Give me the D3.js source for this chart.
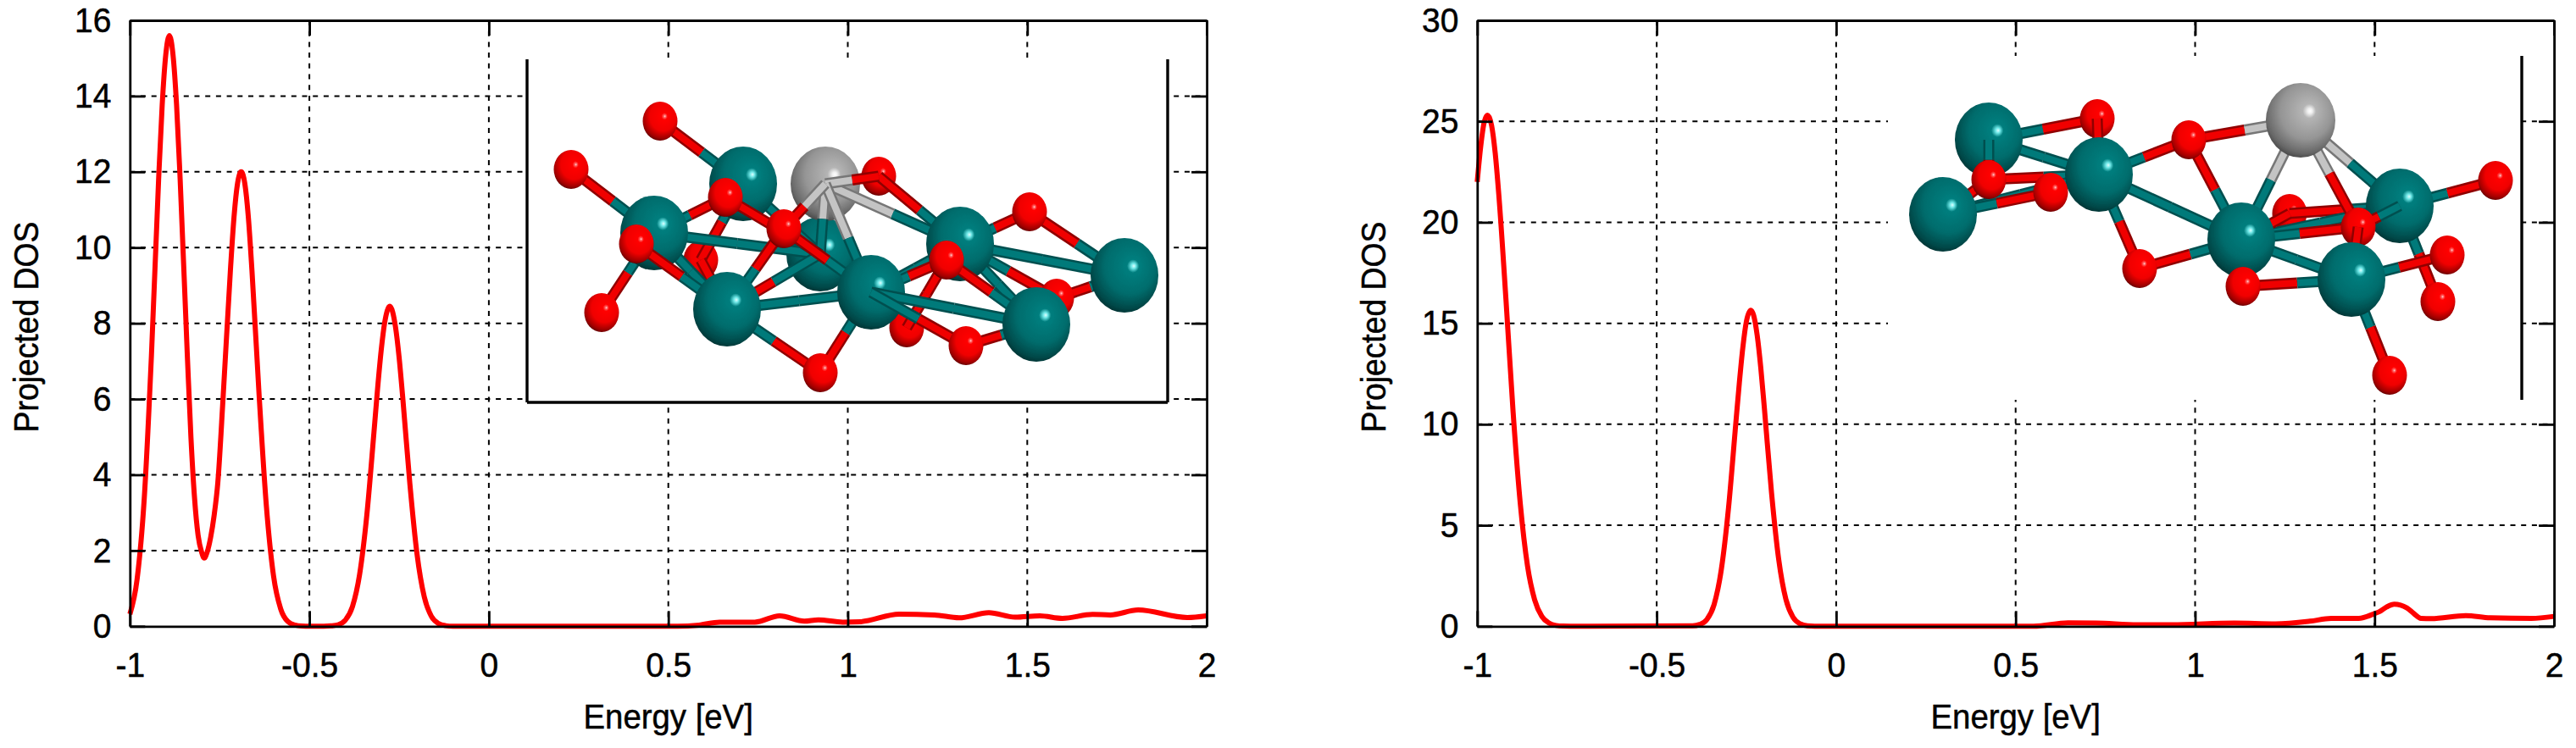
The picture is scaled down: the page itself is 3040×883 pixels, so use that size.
<!DOCTYPE html>
<html>
<head>
<meta charset="utf-8">
<script src="https://cdn.jsdelivr.net/npm/d3@7"></script>
<style>
body { margin: 0; background: #fff; }
text { font-family: "Liberation Sans", sans-serif; font-size: 41px; fill: #000; stroke: #000; stroke-width: 0.5px; }
</style>
</head>
<body>
<div id="chart"></div>
<script>
// curve, energy in eV
var leftE = [-1,-0.98,-0.96,-0.94,-0.92,-0.91,-0.9,-0.89,-0.88,-0.87,-0.86,-0.84,-0.83,-0.82,-0.81,-0.8,-0.793,-0.785,-0.775,-0.765,-0.755,-0.74,-0.72,-0.71,-0.7,-0.69,-0.68,-0.67,-0.66,-0.64,-0.62,-0.6,-0.58,-0.56,-0.54,-0.52,-0.5,-0.46,-0.44,-0.42,-0.4,-0.38,-0.36,-0.34,-0.32,-0.31,-0.3,-0.29,-0.276,-0.26,-0.25,-0.24,-0.22,-0.2,-0.18,-0.16,-0.14,-0.12,-0.1,0,0.3,0.526,0.585,0.643,0.741,0.81,0.879,0.918,0.986,1.035,1.143,1.241,1.31,1.393,1.466,1.535,1.598,1.682,1.731,1.809,1.946,2];
var leftDos = [0.32,1.24,3.38,7.15,11.8,13.77,15.1,15.6,15.1,13.77,11.8,7.15,5,3.4,2.4,1.95,1.8,1.95,2.35,2.95,3.8,6.1,9.4,10.8,11.7,12,11.7,10.8,9.4,6.1,3.2,1.34,0.46,0.125,0.03,0.005,0,0,0.01,0.04,0.16,0.52,1.37,2.93,5.13,6.27,7.28,8.03,8.45,7.9,7.1,6.05,3.76,1.9,0.78,0.26,0.07,0.015,0,0,0,0,0.03,0.11,0.11,0.276,0.134,0.17,0.11,0.12,0.32,0.3,0.224,0.358,0.239,0.276,0.209,0.313,0.3,0.43,0.231,0.276];
var rightE = [-1,-0.99,-0.98,-0.971,-0.96,-0.95,-0.94,-0.92,-0.9,-0.88,-0.86,-0.84,-0.82,-0.8,-0.78,-0.76,-0.72,-0.4,-0.38,-0.36,-0.34,-0.32,-0.3,-0.28,-0.27,-0.26,-0.25,-0.238,-0.23,-0.22,-0.21,-0.2,-0.18,-0.16,-0.14,-0.12,-0.1,-0.08,-0.06,0.3,0.55,0.646,0.724,0.839,0.935,1.109,1.224,1.32,1.379,1.456,1.5,1.513,1.533,1.555,1.59,1.61,1.629,1.658,1.754,1.822,1.937,2];
var rightDos = [22,23.8,25,25.3,24.8,23.45,21.4,16.2,10.6,6.07,3,1.31,0.49,0.16,0.04,0.01,0,0.02,0.09,0.34,1.08,2.8,5.84,9.96,12,13.8,15.1,15.65,15.4,14.4,12.8,10.8,6.6,3.3,1.33,0.44,0.12,0.02,0,0,0,0.17,0.16,0.08,0.08,0.16,0.12,0.25,0.39,0.39,0.63,0.72,0.95,1.09,0.91,0.62,0.39,0.38,0.53,0.42,0.39,0.49];

var xTicks = [-1,-0.5,0,0.5,1,1.5,2];
var leftYTicks = [0,2,4,6,8,10,12,14,16];
var rightYTicks = [0,5,10,15,20,25,30];

// structure pictures, positions in pixels of the inset
var atomRadius = { R: [40,44], O: [20.5,23], G: [41,44] };
var leftAtoms = {O1:[157,73],O2:[52,130],R1:[255,147],G:[352,147],R2:[150,205],O3:[234,163],O4:[129,218],O5:[88,299],R3:[236,295],O6:[346,370],O7:[303,200],R4:[346,230],R5:[406,275],O8:[415,138],R6:[511,218],O9:[593,180],O10:[495,237],R7:[705,255],R8:[601,313],O11:[625,282],O12:[518,338],O13:[448,317],O14:[205,237]};
var leftScene = ["O14","O13","O8",["R1","O14"],["O14","R3"],"R4",["R2","R4"],["R1","R4"],["R3","R5"],["R5","R6"],["O1","R1"],["O2","R2"],["O5","R2"],"R1","O1","O2","O5","G",["O8","R6"],["G","R6"],["O8","G"],["G","R4"],["G","R5"],["R3","R4","O"],["O3","R4"],["O3","R2"],["R2","R3"],"R2",["O4","R3"],"O3","O4",["O7","G"],["O7","R3"],["O7","R5"],"O7",["O6","R3"],["O6","R5"],"R3","O6",["O9","R6"],["O9","R7"],["R6","R7"],["R6","O11"],["O11","R7"],"O11","O9","R7",["R6","R8"],["O10","R5"],"R6",["O10","R8"],["O10","O13"],"R5","O10",["R5","R8"],["R5","O12"],["O12","R8"],"O12","R8"];
var rightAtoms = {Ra:[119,99],Rb:[65,187],Oa:[247,74],Rc:[249,140],Ob:[119,146],Oc:[192,161],Od:[355,99],Oe:[297,251],G:[487,76],Rd:[417,217],Re:[604,177],Of:[717,147],Og:[474,186],Oh:[555,202],Rf:[547,264],Oi:[660,235],Oj:[649,290],Ok:[592,377],Ol:[419,272]};
var rightScene = [["Ra","Oa"],["Ra","Rc"],"Oa","Ra",["Ob","Rc"],["Rb","Rc"],["Rb","Oc"],["Ob","Ra"],["Ob","Rb"],"Rb","Ob",["Oa","Rc"],["Od","Rc"],["Rc","Oe"],["Oe","Rd"],["Rc","Rd"],"Rc","Oc",["Od","G"],["Od","Rd"],"Od","Oe","Og",["Og","Re"],["Rd","Re"],["Og","Rd"],["Rd","Oh"],["G","Rd"],["G","Oh"],["G","Re"],"G",["Re","Oj"],["Re","Of"],"Re",["Oh","Re"],["Rd","Rf"],["Ol","Rd"],["Ol","Rf"],"Rd","Ol","Oh",["Oh","Rf"],["Rf","Oi"],["Rf","Ok"],"Oj","Oi","Of","Ok","Rf"];

var bondColor = { R: ["#005050","#007a7a"], O: ["#900000","#f00000"], G: ["#777777","#c4c4c4"] };

var svg = d3.select("#chart").append("svg")
    .attr("width", 3040)
    .attr("height", 883)
    .style("display", "block");

var defs = svg.append("defs");
defs.append("filter").attr("id", "soft")
    .append("feGaussianBlur").attr("stdDeviation", 0.7);

function addBall(id, stops) {
    var g = defs.append("radialGradient").attr("id", id)
        .attr("cx", 0.54).attr("cy", 0.38).attr("r", 0.68)
        .attr("fx", 0.64).attr("fy", 0.375);
    stops.forEach(function(s) {
        g.append("stop").attr("offset", s[0]).attr("stop-color", s[1]);
    });
}
addBall("ballR", [[0,"#e0ffff"],[0.05,"#70e8e8"],[0.13,"#007e7e"],[0.55,"#006c6c"],[0.82,"#004a4a"],[1,"#002626"]]);
addBall("ballO", [[0,"#ffd8d8"],[0.05,"#ff6060"],[0.13,"#ff0000"],[0.55,"#f00000"],[0.82,"#a00000"],[1,"#3c0000"]]);
addBall("ballG", [[0,"#ffffff"],[0.05,"#f0f0f0"],[0.14,"#b4b4b4"],[0.55,"#959595"],[0.82,"#686868"],[1,"#363636"]]);

// squeeze glyphs a little, the original font is narrower than ours
function squeeze(sel, k) {
    sel.each(function() {
        var len = this.getComputedTextLength();
        d3.select(this).attr("textLength", len * k).attr("lengthAdjust", "spacingAndGlyphs");
    });
}

function halfBond(g, a, b, type) {
    bondColor[type].forEach(function(c, i) {
        g.append("line")
            .attr("x1", a[0]).attr("y1", a[1])
            .attr("x2", b[0]).attr("y2", b[1])
            .attr("stroke", c)
            .attr("stroke-width", i == 0 ? 13 : 8);
    });
}

function drawScene(g, atoms, scene) {
    var typeOf = function(name) { return name.charAt(0); };
    scene.forEach(function(item) {
        if (typeof item == "string") {
            var r = atomRadius[typeOf(item)];
            g.append("ellipse")
                .attr("cx", atoms[item][0]).attr("cy", atoms[item][1])
                .attr("rx", r[0]).attr("ry", r[1])
                .attr("fill", "url(#ball" + typeOf(item) + ")");
        } else {
            var a = atoms[item[0]], b = atoms[item[1]];
            var mid = [(a[0] + b[0]) / 2, (a[1] + b[1]) / 2];
            halfBond(g, a, mid, item[2] || typeOf(item[0]));
            halfBond(g, mid, b, typeOf(item[1]));
        }
    });
}

function drawPanel(opt) {
    var x = d3.scaleLinear().domain([-1, 2]).range([opt.left, opt.left + 1270.8]);
    var y = d3.scaleLinear().domain([0, opt.yMax]).range([739.3, 24]);
    var points = d3.range(opt.energy.length);
    var line = d3.line()
        .x(function(i) { return x(opt.energy[i]); })
        .y(function(i) { return y(opt.dos[i]); })
        .curve(d3.curveMonotoneX);

    // dotted grid
    var grid = svg.append("g")
        .attr("stroke", "#000")
        .attr("stroke-width", 2)
        .attr("stroke-dasharray", "6,6.7");
    grid.selectAll(".gx").data(xTicks.slice(1, -1)).enter().append("line")
        .attr("x1", x).attr("x2", x)
        .attr("y1", y(opt.yMax)).attr("y2", y(0));
    grid.selectAll(".gy").data(opt.yTicks.slice(1, -1)).enter().append("line")
        .attr("y1", y).attr("y2", y)
        .attr("x1", x(-1)).attr("x2", x(2));

    svg.append("path")
        .datum(points)
        .attr("d", line)
        .attr("fill", "none")
        .attr("stroke", "#ff0000")
        .attr("stroke-width", 6);

    // axes, ticks point inward on all four sides
    var fmt = function(d) { return String(d); };
    var bottom = svg.append("g").attr("transform", "translate(0,739.3)")
        .call(d3.axisBottom(x).tickValues(xTicks).tickFormat(fmt).tickSize(-18).tickSizeOuter(0).tickPadding(31));
    var left = svg.append("g").attr("transform", "translate(" + opt.left + ",0)")
        .call(d3.axisLeft(y).tickValues(opt.yTicks).tickFormat(fmt).tickSize(-18).tickSizeOuter(0).tickPadding(22));
    var top = svg.append("g").attr("transform", "translate(0,24)")
        .call(d3.axisTop(x).tickValues(xTicks).tickFormat("").tickSize(-18).tickSizeOuter(0));
    var right = svg.append("g").attr("transform", "translate(" + x(2) + ",0)")
        .call(d3.axisRight(y).tickValues(opt.yTicks).tickFormat("").tickSize(-18).tickSizeOuter(0));
    [bottom, left, top, right].forEach(function(a) {
        a.attr("font-family", null).attr("font-size", null);
        a.selectAll("line").attr("stroke", "#000").attr("stroke-width", 2.8);
        a.selectAll(".domain").attr("stroke", "#000").attr("stroke-width", 2.8);
        a.selectAll("text").attr("fill", "#000");
    });
    squeeze(bottom.selectAll("text"), 0.95);
    squeeze(left.selectAll("text"), 0.95);

    svg.append("text")
        .attr("x", (x(-1) + x(2)) / 2)
        .attr("y", 860)
        .attr("text-anchor", "middle")
        .text("Energy [eV]")
        .call(squeeze, 0.935);
    svg.append("text")
        .attr("transform", "translate(" + (opt.left - 108) + ",386) rotate(-90)")
        .attr("text-anchor", "middle")
        .text("Projected DOS")
        .call(squeeze, 0.91);

    // inset with the structure
    var inset = svg.append("g").attr("transform", "translate(" + opt.inset[0] + "," + opt.inset[1] + ")");
    inset.append("rect")
        .attr("width", opt.inset[2])
        .attr("height", opt.inset[3])
        .attr("fill", "#fff");
    opt.insetLines.forEach(function(l) {
        inset.append("line")
            .attr("x1", l[0] * opt.inset[2]).attr("x2", l[2] * opt.inset[2])
            .attr("y1", l[1] * opt.inset[3]).attr("y2", l[3] * opt.inset[3])
            .attr("stroke", "#000")
            .attr("stroke-width", 3.4);
    });
    var mol = inset.append("g").attr("filter", "url(#soft)");
    drawScene(mol, opt.atoms, opt.scene);
}

drawPanel({
    left: 153.3, yMax: 16, yTicks: leftYTicks,
    energy: leftE, dos: leftDos,
    inset: [622, 70, 756, 405],
    insetLines: [[0,0,0,1],[1,0,1,1],[0,1,1,1]],
    atoms: leftAtoms, scene: leftScene
});
drawPanel({
    left: 1743.3, yMax: 30, yTicks: rightYTicks,
    energy: rightE, dos: rightDos,
    inset: [2228, 66, 748, 406],
    insetLines: [[1,0,1,1]],
    atoms: rightAtoms, scene: rightScene
});
</script>
</body>
</html>
